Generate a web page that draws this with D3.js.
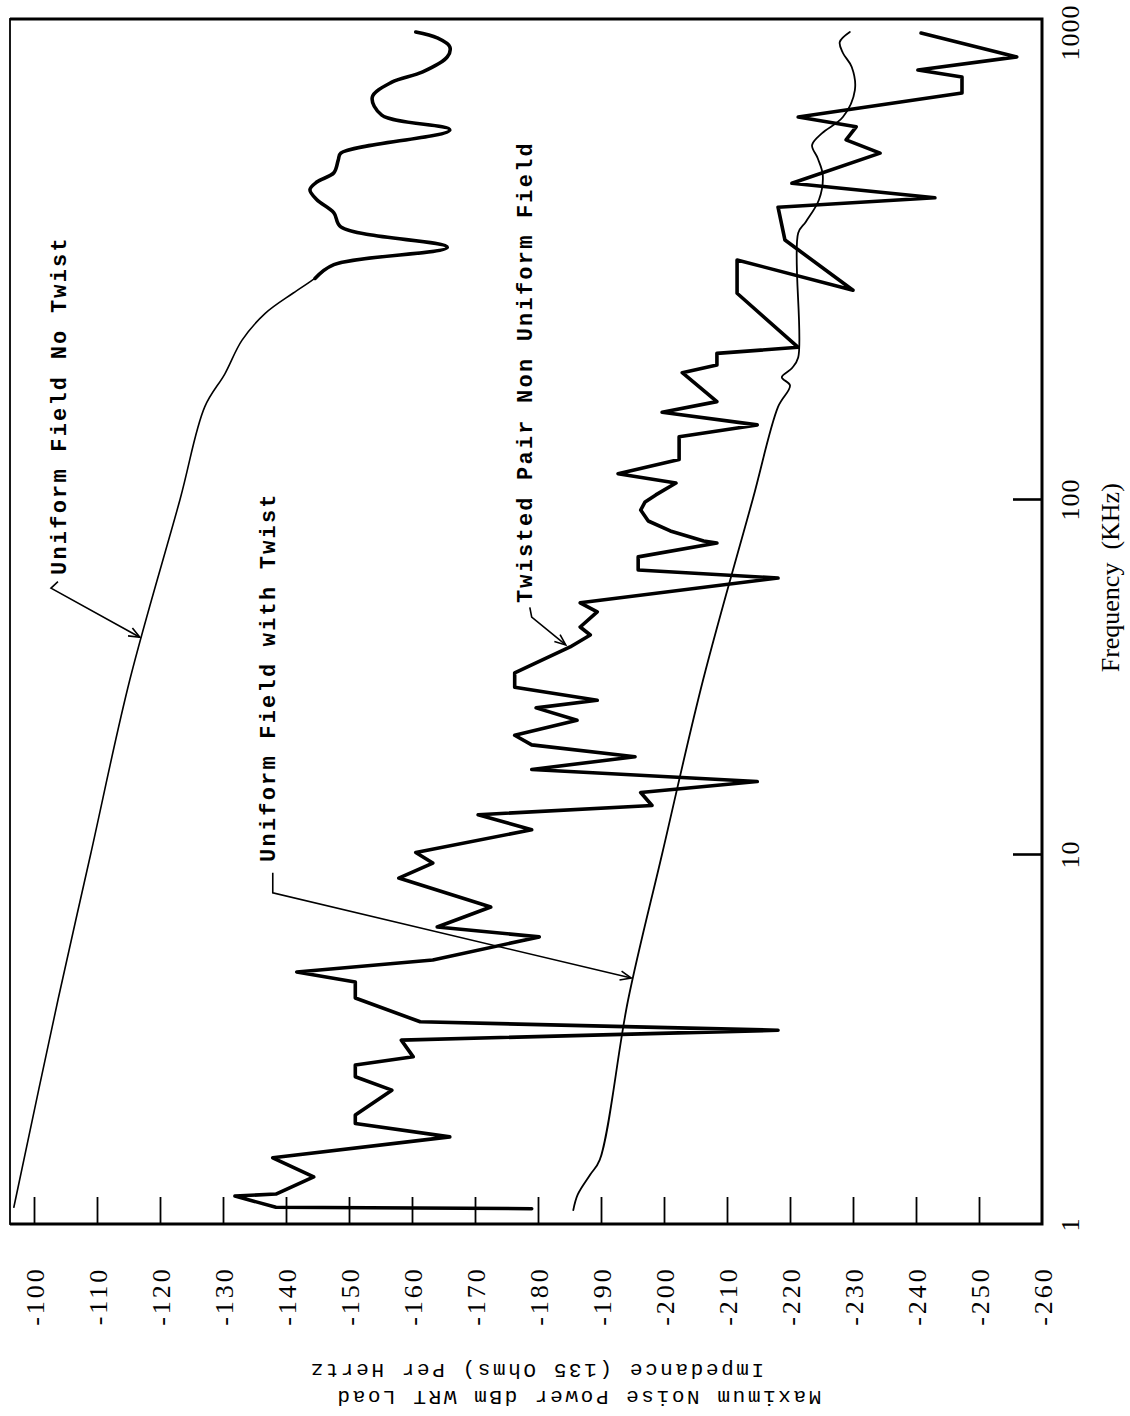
<!DOCTYPE html>
<html>
<head>
<meta charset="utf-8">
<script src="https://cdn.jsdelivr.net/npm/d3@7"></script>
<style>
  body { margin: 0; background: #fff; }
  svg { display: block; }
</style>
</head>
<body>
<div id="chart"></div>
<script>
// frequency in KHz, noise power in dBm
const freqTicks = [1, 10, 100, 1000];
const powerTicks = [-100, -110, -120, -130, -140, -150, -160, -170, -180, -190,
                    -200, -210, -220, -230, -240, -250, -260];

const noTwist = [
  [1.11, -96.8], [4.03, -103.8], [10, -109.0], [30.9, -115.2], [100, -123.2],
  [156, -127.1], [183, -130.3], [215, -133.0], [245, -136.7], [270, -141.1],
  [290, -144.6], [310, -147.6], [337, -165.6], [372, -148.7], [398, -147.6],
  [424, -144.9], [445, -143.8], [462, -144.9], [483, -147.6], [514, -148.3],
  [531, -148.7], [594, -166.0], [638, -155.2], [696, -153.7], [748, -156.8],
  [786, -161.7], [845, -165.6], [887, -166.0], [926, -164.0], [953, -160.6]
];

const withTwist = [
  [1.09, -185.6], [1.20, -186.3], [1.36, -188.3], [1.49, -189.8], [4.03, -194.3],
  [10, -199.7], [30.9, -206.2], [100, -214.1], [156, -218.1], [173, -220.0],
  [180, -218.7], [188, -220.3], [198, -221.3], [361, -221.3], [381, -222.5],
  [424, -224.6], [478, -225.2], [518, -224.4], [552, -223.5], [585, -225.1],
  [632, -228.4], [720, -230.3], [805, -229.8], [861, -228.4], [908, -227.9],
  [953, -229.5]
];

const twistedPair = [
  [1.10, -179.0], [1.11, -138.4], [1.19, -131.9], [1.205, -138.4], [1.34, -144.4],
  [1.51, -137.9], [1.72, -166.0], [1.87, -151.0], [1.97, -151.0], [2.30, -156.8],
  [2.50, -151.0], [2.69, -151.0], [2.83, -160.2], [3.14, -158.3], [3.34, -218.1],
  [3.52, -161.3], [4.08, -151.0], [4.51, -151.0], [4.80, -141.7], [5.17, -163.3],
  [5.97, -180.2], [6.35, -164.0], [7.19, -172.5], [8.61, -157.9], [9.45, -163.3],
  [10.1, -160.6], [11.7, -179.0], [12.9, -170.5], [13.7, -198.1], [14.9, -196.3],
  [16.0, -214.8], [17.3, -179.0], [18.8, -195.4], [20.3, -179.0], [21.6, -176.3],
  [23.8, -186.2], [25.8, -179.7], [27.1, -189.4], [29.5, -176.3], [32.4, -176.3],
  [38.3, -185.1], [41.4, -188.3], [43.6, -186.7], [48.1, -189.4], [51.0, -186.7],
  [59.9, -218.1], [63.1, -195.9], [68.7, -195.9], [75.2, -208.4], [76.2, -206.3],
  [81.3, -201.0], [86.7, -197.5], [93.1, -196.3], [98.1, -197.0], [102, -198.7],
  [108, -201.9], [113, -192.7], [121, -202.4], [135, -202.4], [143, -214.8],
  [152, -199.7], [160, -208.4], [184, -202.9], [191, -208.4], [202, -208.4],
  [208, -221.3], [270, -211.6], [317, -211.6], [274, -230.0], [349, -219.2],
  [409, -218.1], [428, -243.0], [459, -220.3], [531, -234.3], [566, -228.9],
  [603, -230.5], [632, -221.3], [710, -247.3], [767, -247.3], [793, -240.3],
  [845, -256.0], [948, -240.8]
];

// annotation text start, leader bend points and arrow tip, as [freq, dBm]
const notes = [
  { text: 'Uniform Field No Twist', at: [61.1, -103.8],
    leader: [[58.5, -103.8], [56.1, -102.7], [40.8, -116.8]] },
  { text: 'Uniform Field with Twist', at: [9.52, -137.1],
    leader: [[8.9, -137.9], [7.85, -137.9], [4.62, -194.8]] },
  { text: 'Twisted Pair Non Uniform Field', at: [50.9, -177.9],
    leader: [[49.5, -178.7], [46.5, -179.0], [38.8, -184.4]] }
];

const width = 1130, height = 1416;
const plot = { left: 10, top: 19, right: 1042, bottom: 1224 };

const svg = d3.select('#chart').append('svg')
  .attr('width', width)
  .attr('height', height)
  .style('background', '#fff');

// the chart is printed turned a quarter turn: power runs across, frequency runs up
const x = d3.scaleLinear()
  .domain([-100, -260])
  .range([plot.left + 24, plot.right]);

// scanned decades are not quite even, so the log scale is piecewise
const y = d3.scaleLog()
  .domain(freqTicks)
  .range([plot.bottom, 854, 499, plot.top + 3]);

svg.append('defs').append('marker')
  .attr('id', 'arrow')
  .attr('viewBox', '-12 -6 14 12')
  .attr('markerUnits', 'userSpaceOnUse')
  .attr('markerWidth', 14)
  .attr('markerHeight', 12)
  .attr('orient', 'auto')
  .append('path')
  .attr('d', 'M-11,-4.5 L0,0 L-11,4.5')
  .attr('fill', 'none')
  .attr('stroke', '#000')
  .attr('stroke-width', 1.6);

const smooth = d3.line()
  .x(d => x(d[1]))
  .y(d => y(d[0]))
  .curve(d3.curveCatmullRom.alpha(0.5));

const straight = d3.line()
  .x(d => x(d[1]))
  .y(d => y(d[0]));

const lines = svg.append('g').attr('fill', 'none').attr('stroke', '#000')
  .attr('stroke-linejoin', 'round').attr('stroke-linecap', 'round');

lines.append('path').attr('d', smooth(noTwist)).attr('stroke-width', 1.6);
lines.append('path').attr('d', smooth(noTwist.slice(10))).attr('stroke-width', 3.6);
lines.append('path').attr('d', smooth(withTwist)).attr('stroke-width', 1.8);
lines.append('path').attr('d', straight(twistedPair)).attr('stroke-width', 3.6);

// annotations
const noteG = svg.append('g');
notes.forEach(n => {
  const start = [x(n.at[1]), y(n.at[0])];
  noteG.append('text')
    .attr('transform', `translate(${start[0]},${start[1]}) rotate(-90)`)
    .attr('dy', '0.35em')
    .attr('font-family', '"Liberation Mono", "DejaVu Sans Mono", monospace')
    .attr('font-weight', 'bold')
    .attr('font-size', 22)
    .attr('letter-spacing', 2.2)
    .text(n.text);
  noteG.append('path')
    .attr('d', straight(n.leader))
    .attr('fill', 'none')
    .attr('stroke', '#000')
    .attr('stroke-width', 1.6)
    .attr('marker-end', 'url(#arrow)');
});

// frame
svg.append('rect')
  .attr('x', plot.left).attr('y', plot.top)
  .attr('width', plot.right - plot.left).attr('height', plot.bottom - plot.top)
  .attr('fill', 'none').attr('stroke', '#000').attr('stroke-width', 1.8);
svg.append('path')
  .attr('d', `M${plot.left},${plot.top}H${plot.right}V${plot.bottom}H${plot.left}`)
  .attr('fill', 'none').attr('stroke', '#000').attr('stroke-width', 3);

// power axis along the bottom edge, ticks pointing inward
const powerAxis = d3.axisBottom(x)
  .tickValues(powerTicks)
  .tickFormat(d => String(d))
  .tickSizeInner(-27)
  .tickSizeOuter(0);

const pg = svg.append('g')
  .attr('transform', `translate(0,${plot.bottom})`)
  .call(powerAxis);
pg.select('.domain').remove();
pg.selectAll('.tick line').attr('stroke', '#000').attr('stroke-width', 1.8)
  .filter(d => d === -260).remove();
pg.selectAll('.tick text')
  .attr('y', null).attr('dy', '0.35em')
  .attr('transform', 'translate(0,72) rotate(-90)')
  .attr('text-anchor', 'middle')
  .attr('fill', '#000')
  .attr('font-family', '"Liberation Serif", "DejaVu Serif", serif')
  .attr('font-size', 26)
  .attr('letter-spacing', 3);

// frequency axis along the right edge
const freqAxis = d3.axisRight(y)
  .tickValues(freqTicks)
  .tickFormat(d => String(d))
  .tickSizeInner(-29)
  .tickSizeOuter(0);

const fg = svg.append('g')
  .attr('transform', `translate(${plot.right},0)`)
  .call(freqAxis);
fg.select('.domain').remove();
fg.selectAll('.tick line').attr('stroke', '#000').attr('stroke-width', 2.6)
  .filter(d => d === 1 || d === 1000).remove();
fg.selectAll('.tick text')
  .attr('x', null).attr('dy', null)
  .attr('transform', d => `translate(28,${d === 1000 ? 10 : 0}) rotate(-90)`)
  .attr('dominant-baseline', 'central')
  .attr('text-anchor', 'middle')
  .attr('fill', '#000')
  .attr('font-family', '"Liberation Serif", "DejaVu Serif", serif')
  .attr('font-size', 26)
  .attr('letter-spacing', 1);

svg.append('text')
  .attr('transform', `translate(1110,${y(60)}) rotate(-90)`)
  .attr('dominant-baseline', 'central')
  .attr('text-anchor', 'middle')
  .attr('font-family', '"Liberation Serif", "DejaVu Serif", serif')
  .attr('font-size', 26)
  .attr('xml:space', 'preserve')
  .text('Frequency  (KHz)');

// power title, printed upside down below the axis
const titleLines = ['Impedance (135 Ohms) Per Hertz', 'Maximum Noise Power dBm WRT Load'];
const titleCenters = [536, 578];
titleLines.forEach((t, i) => {
  svg.append('text')
    .attr('transform', `translate(${titleCenters[i]},${1369 + i * 27}) rotate(180)`)
    .attr('dominant-baseline', 'central')
    .attr('text-anchor', 'middle')
    .attr('font-family', '"Liberation Mono", "DejaVu Sans Mono", monospace')
    .attr('font-size', 21)
    .attr('letter-spacing', 2.6)
    .text(t);
});
</script>
</body>
</html>
